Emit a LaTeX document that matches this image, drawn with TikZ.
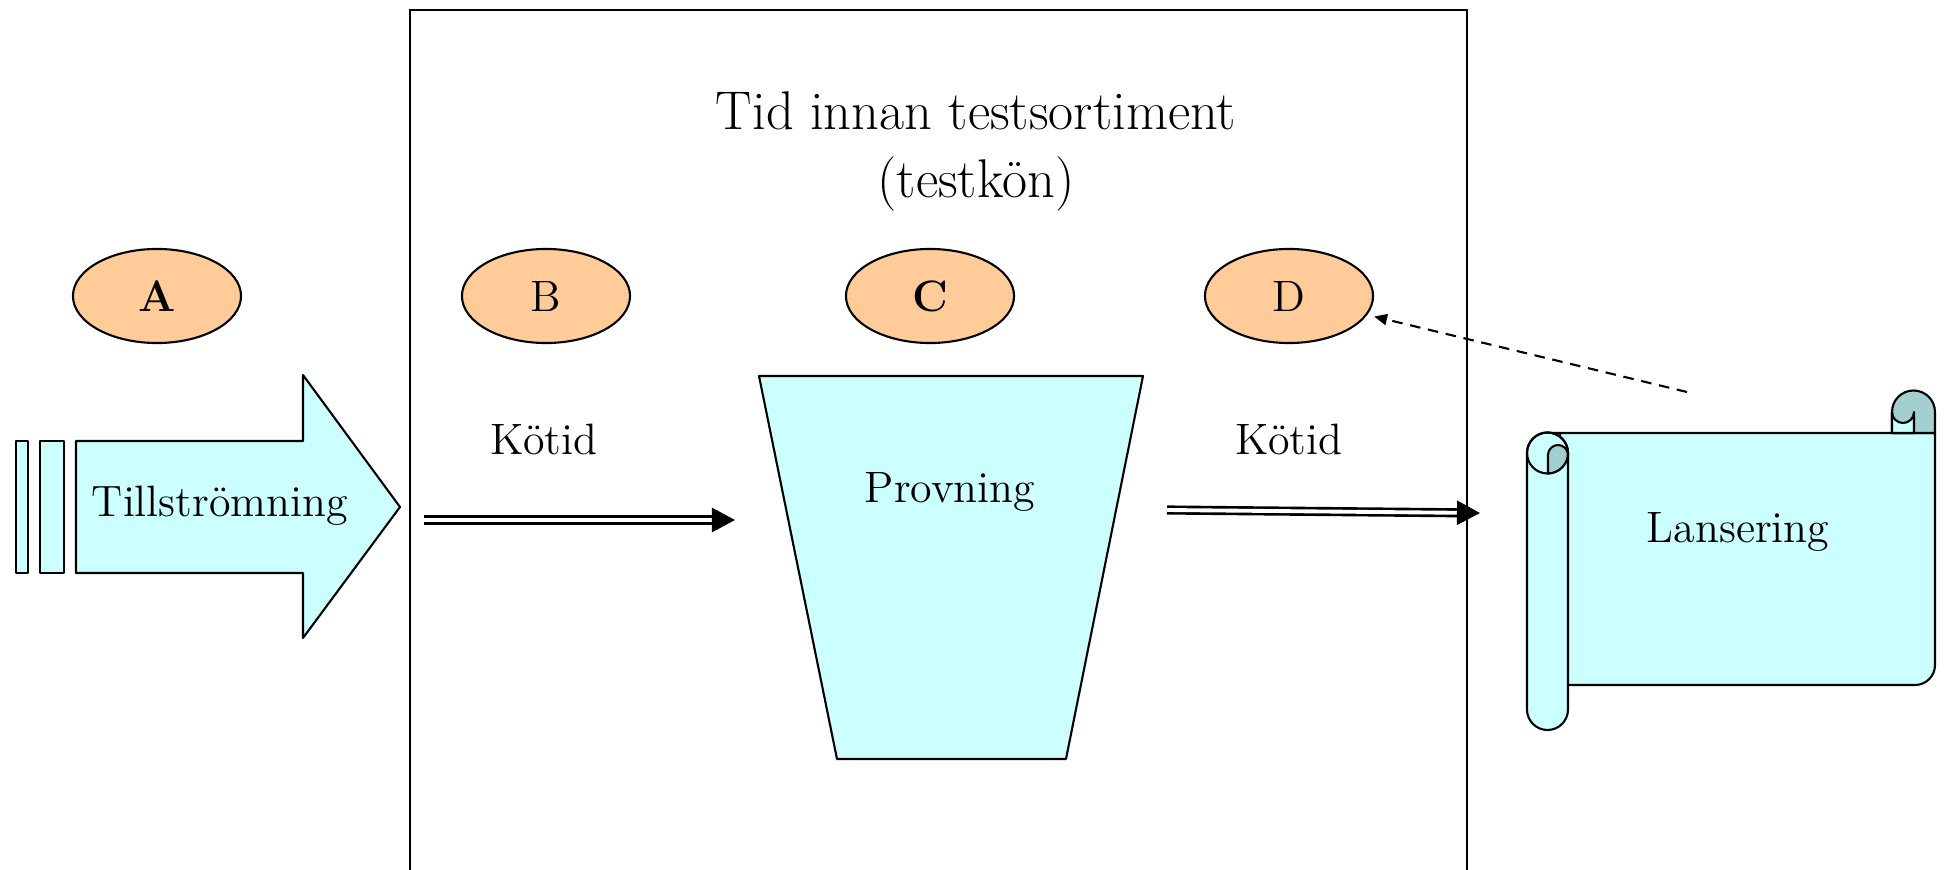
\documentclass[tikz,border=0pt]{standalone}
\usepackage{tikz}
\usetikzlibrary{shapes.geometric,arrows.meta}
\definecolor{flowcyan}{HTML}{CCFFFF}
\definecolor{rollcyan}{HTML}{A3CFCF}
\definecolor{tagorange}{HTML}{FFCC99}

\begin{document}
\begin{tikzpicture}[x=0.01cm,y=-0.01cm,line width=0.6pt,
  every node/.style={font=\fontsize{12.5}{15}\selectfont},
  tag/.style={ellipse,draw,fill=tagorange,minimum width=1.68cm,minimum height=0.94cm,inner sep=0pt},
  feed/.style={double,double distance=1.1pt,line width=0.75pt,-{Triangle[length=0.23cm,width=0.24cm]}},
  shade/.style={fill=flowcyan,draw,line join=round},
  roll/.style={fill=rollcyan,draw,line join=round}]

    \useasboundingbox (0,0) rectangle (1944,870);

%the frame round the queue
    \draw (410,880) -- (410,10) -- (1467,10) -- (1467,880);
    \node[anchor=base,font=\fontsize{15.5}{19}\selectfont] (title) at (976,130) {Tid innan testsortiment};
    \node[anchor=base,font=\fontsize{15.5}{19}\selectfont] (titleq) at (976,198) {(testkön)};

% the stages
    \node[tag] (A) at (157,296) {\textbf{A}};
    \node[tag] (B) at (546,296) {B};
    \node[tag] (C) at (930,296) {\textbf{C}};
    \node[tag] (D) at (1289,296) {D};

% the inflow arrow
    \filldraw[shade] (16,441) rectangle (28,573);
    \filldraw[shade] (40,441) rectangle (64,573);
    \filldraw[shade] (76,441) -- (303,441) -- (303,375) -- (400,507) -- (303,638) -- (303,573) -- (76,573) -- cycle;
    \node[anchor=base] (inflow) at (220,517) {Tillströmning};

% the test funnel
    \filldraw[shade] (759,376) -- (1143,376) -- (1066,759) -- (837,759) -- cycle;
    \node[anchor=base] (test) at (950,503) {Provning};

% the waiting times
    \node[anchor=base] (wait1) at (544,455) {Kötid};
    \node[anchor=base] (wait2) at (1289,455) {Kötid};
    \coordinate (q1s) at (424,520);
    \coordinate (q1e) at (735,520);
    \draw[feed] (q1s) -- (q1e);
    \coordinate (q2s) at (1167,510);
    \coordinate (q2e) at (1480,513);
    \draw[feed] (q2s) -- (q2e);

% the scroll
    \filldraw[shade] (1547,433) -- (1935,433) -- (1935,665) arc(0:90:20) -- (1560,685) -- (1560,433) -- cycle;
    \filldraw[roll] (1892,433) -- (1892,412) arc(180:360:21.5) -- (1935,433) -- cycle;
    \filldraw[shade] (1892,433) -- (1892,412) arc(180:0:11) -- (1914,433) -- cycle;
    \filldraw[shade] (1527,453) -- (1527,709.5) arc(180:0:20.5) -- (1568,453) arc(0:-180:20.5) -- cycle;
    \draw (1547.5,453) circle (20.5);
    \filldraw[roll] (1548,473.5) -- (1548,455) arc(180:360:10) -- (1568,453) arc(0:90:20.5) -- cycle;
    \node[anchor=base] (launch) at (1738,543) {Lansering};

% back to D
    \coordinate (ln) at (1687,392);
    \draw[dash pattern=on 3pt off 2.2pt,-{Triangle[length=0.13cm,width=0.11cm]},shorten >=2pt] (ln) -- (D);
\end{tikzpicture}
\end{document}
